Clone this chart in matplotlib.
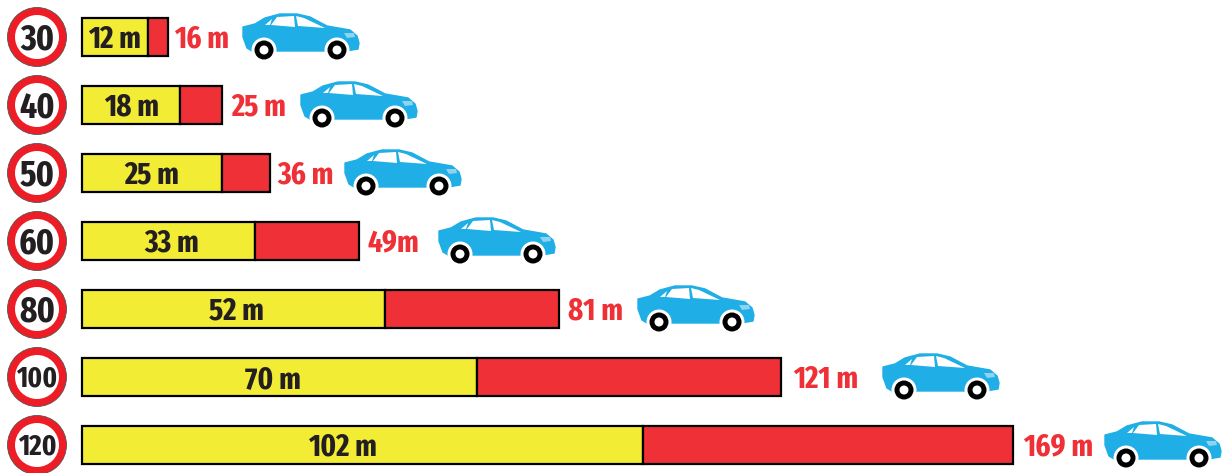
import matplotlib
matplotlib.use('Agg')
import matplotlib.pyplot as plt
from matplotlib.patches import Circle, Polygon
from matplotlib import font_manager as fm

# speeds and the printed stopping distances
speeds = ['30', '40', '50', '60', '80', '100', '120']
braking_labels = ['12 m', '18 m', '25 m', '33 m', '52 m', '70 m', '102 m']
total_labels = ['16 m', '25 m', '36 m', '49m', '81 m', '121 m', '169 m']

# bar lengths as they are drawn (not quite to scale with the printed numbers)
braking = [12.0, 17.8, 25.5, 31.5, 55.1, 71.8, 102.0]
total = [15.6, 25.5, 34.2, 50.4, 86.7, 127.1, 169.3]

# label and car placement, in pixels
braking_label_x = [114, 132, 152, 172, 236, 273, 342]
total_label_x = [174, 231, 277, 368, 568, 793, 1023]
car_x = [243, 301, 345, 439, 638, 883, 1105]

YELLOW = '#F2EC35'
RED = '#EF3036'
SIGN_RED = '#EE1C25'
BLUE = '#1FAEE5'
DARK = '#231F20'

# a condensed bold face if there is one
names = {f.name for f in fm.fontManager.ttflist}
for font in ['Fira Sans Extra Condensed', 'Fira Sans Condensed', 'PT Sans Narrow', 'Roboto Condensed', 'Roboto']:
    if font in names:
        break
plt.rcParams['font.family'] = [font, 'DejaVu Sans']

W, H = 1225, 473
PX_PER_M = 5.5
ROW = 68
fig = plt.figure(figsize=(W / 100, H / 100), dpi=100)

# bars: x in metres, y in rows
ax = fig.add_axes([0, 0, 1, 1])
ax.set_xlim(-82 / PX_PER_M, (W - 82) / PX_PER_M)
ax.set_ylim((H - 37) / ROW, -37 / ROW)
ax.axis('off')
rows = list(range(len(speeds)))
rest = [t - b for t, b in zip(total, braking)]
ax.barh(rows, braking, height=0.56, color=YELLOW, edgecolor='black', linewidth=1.6)
ax.barh(rows, rest, left=braking, height=0.56, color=RED, edgecolor='black', linewidth=1.6)

# signs, cars and labels in pixel coordinates
px = fig.add_axes([0, 0, 1, 1])
px.set_xlim(0, W)
px.set_ylim(H, 0)
px.axis('off')
px.patch.set_alpha(0)

# car outline from the left end of the car, y from the row centre
body = [(0, -10), (12, -13), (22, -19), (37, -23), (54, -23), (67, -20), (84, -11),
        (107, -7), (114, -1), (116, 6), (115, 12), (103, 14), (9, 14), (4, 11), (0, 0)]
win_rear = [(22, -12), (29, -18), (27, -12)]
win_mid = [(28, -12), (34, -20), (51, -21), (52, -10)]
win_front = [(53, -21), (61, -19), (82, -9), (55, -11)]
headlight = [(101, -4), (111, -4), (112, 0), (104, 1)]


def draw_car(x0, yc):
    def shift(pts):
        return [(x0 + a, yc + b) for a, b in pts]
    px.add_patch(Polygon(shift(body), closed=True, fc=BLUE, ec=BLUE, lw=1, joinstyle='round'))
    for w in (win_rear, win_mid, win_front):
        px.add_patch(Polygon(shift(w), closed=True, fc='white', ec='none'))
    px.add_patch(Polygon(shift(headlight), closed=True, fc='#8FD3F1', ec='none'))
    for wx in (21, 94):
        px.add_patch(Circle((x0 + wx, yc + 13), 12.5, fc='white', ec='none'))
        px.add_patch(Circle((x0 + wx, yc + 13), 9.5, fc='black', ec='none'))
        px.add_patch(Circle((x0 + wx, yc + 13), 4.5, fc='white', ec='none'))


for i, speed in enumerate(speeds):
    yc = 37 + i * ROW
    px.add_patch(Circle((37, yc), 29.5, fc=SIGN_RED, ec='#555555', lw=0.6))
    px.add_patch(Circle((37, yc), 22, fc='white', ec='none'))
    px.text(37, yc - 1, speed, ha='center', va='center_baseline', fontsize=26 if len(speed) == 2 else 21,
            fontweight='bold', color=DARK)
    px.text(braking_label_x[i], yc - 1, braking_labels[i], ha='center', va='center_baseline',
            fontsize=22.5, fontweight='bold', color=DARK)
    px.text(total_label_x[i], yc - 1, total_labels[i], ha='left', va='center_baseline',
            fontsize=22.5, fontweight='bold', color=RED)
    draw_car(car_x[i], yc)

fig.savefig('out.png', dpi=100)
